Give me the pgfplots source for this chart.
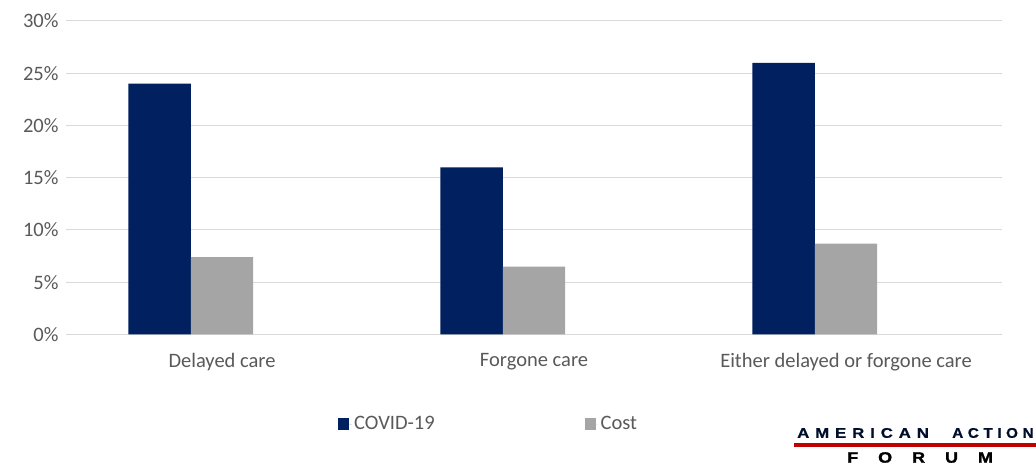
\documentclass[border=0pt]{standalone}
\usepackage{fontspec}
\setmainfont{Carlito}
\newfontfamily\logoA[LetterSpace=42,FakeStretch=1.2,FakeBold=0.6]{Liberation Sans Bold}
\newfontfamily\logoAb[LetterSpace=32,FakeStretch=1.1,FakeBold=0.6]{Liberation Sans Bold}
\newfontfamily\logoB[LetterSpace=133,FakeStretch=1.2,FakeBold=1.5]{Liberation Sans Bold}
\usepackage{pgfplots}
\pgfplotsset{compat=1.18}

\definecolor{navy}{HTML}{002060}
\definecolor{costgrey}{HTML}{A5A5A5}
\definecolor{gridgrey}{HTML}{D9D9D9}
\definecolor{labelgrey}{HTML}{595959}
\definecolor{aafred}{HTML}{C00000}

\begin{document}
\begin{tikzpicture}[x=1bp,y=1bp]
\useasboundingbox (0,0) rectangle (1036,465);
\begin{axis}[
    at={(66bp,130.5bp)}, anchor=south west,
    width=936bp, height=313.5bp, scale only axis,
    ybar, bar width=0.2,
    xmin=-0.5, xmax=2.5,
    ymin=0, ymax=30,
    xtick={0,1,2},
    xticklabels={Delayed care, Forgone care, Either delayed or forgone care},
    ytick={0,5,10,15,20,25,30},
    yticklabel={\pgfmathprintnumber{\tick}\%},
    /pgf/number format/assume math mode=true,
    axis line style={draw=none},
    major tick length=0pt,
    ymajorgrids=true,
    grid style={gridgrey, line width=1bp},
    tick label style={font=\fontsize{20.5bp}{22bp}\selectfont, text=labelgrey},
    xticklabel style={yshift=-15bp},
    yticklabel style={xshift=-4bp},
    legend columns=2,
    legend style={at={(0.2874,-0.2855)}, anchor=west, draw=none, fill=none,
        font=\fontsize{20.5bp}{22bp}\selectfont, text=labelgrey,
        /tikz/every even column/.append style={column sep=148bp}},
]
\addplot[fill=navy, draw=none, bar shift=-0.2,
    legend image code/.code={\fill[navy] (0bp,-5.5bp) rectangle (11bp,5.5bp);
        \path (0bp,0bp) -- (14bp,0bp);}]
    coordinates {(0,24) (1,16) (2,26)};
\addplot[fill=costgrey, draw=none, bar shift=0,
    legend image code/.code={\fill[costgrey] (0bp,-5.5bp) rectangle (11bp,5.5bp);
        \path (0bp,0bp) -- (14bp,0bp);}]
    coordinates {(0,7.4) (1,6.5) (2,8.7)};
\legend{COVID-19, Cost}
\end{axis}
% logo
\node[anchor=west, inner sep=0pt, font=\logoA\fontsize{14bp}{15bp}\selectfont, text=navy!45!black]
    at (797,32) {AMERICAN};
\node[anchor=west, inner sep=0pt, font=\logoAb\fontsize{14bp}{15bp}\selectfont, text=navy!45!black]
    at (952,32) {ACTION};
\draw[aafred, line width=3.5bp] (794,20) -- (1036,20);
\node[anchor=west, inner sep=0pt, font=\logoB\fontsize{15bp}{16bp}\selectfont, text=black]
    at (847,7.5) {FORUM};
\end{tikzpicture}
\end{document}
